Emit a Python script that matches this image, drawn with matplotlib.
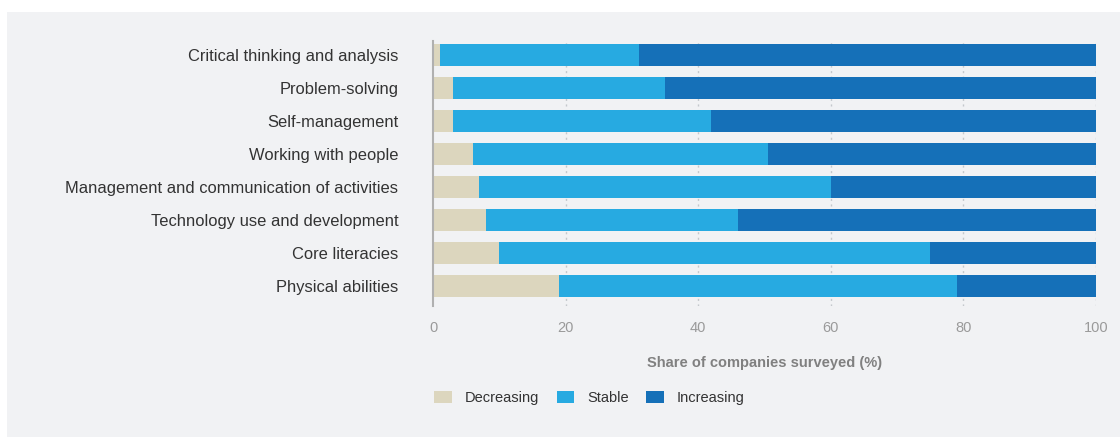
import matplotlib
matplotlib.use("Agg")
import matplotlib.pyplot as plt
from matplotlib.patches import Rectangle, Patch
import numpy as np

skills = [
    "Critical thinking and analysis",
    "Problem-solving",
    "Self-management",
    "Working with people",
    "Management and communication of activities",
    "Technology use and development",
    "Core literacies",
    "Physical abilities",
]
decreasing = [1, 3, 3, 6, 7, 8, 10, 19]
stable = [30, 32, 39, 44.5, 53, 38, 65, 60]
increasing = [69, 65, 58, 49.5, 40, 54, 25, 21]
series_names = ["Decreasing", "Stable", "Increasing"]

BEIGE = "#DCD6BE"
SKY = "#27AAE1"
BLUE = "#1570B8"
PANEL = "#F1F2F4"

plt.rcParams["font.family"] = ["Liberation Sans", "DejaVu Sans"]

fig = plt.figure(figsize=(11.2, 4.37), dpi=100)
# light grey panel behind everything
fig.patches.append(Rectangle((7 / 1120, 0), 1 - 7 / 1120, 1 - 12 / 437,
                             transform=fig.transFigure, facecolor=PANEL,
                             edgecolor="none", zorder=-10))

ax = fig.add_axes([433 / 1120, 1 - 306 / 437, 663 / 1120, 265 / 437])
ax.set_facecolor("none")
ax.set_zorder(1)

y = np.arange(len(skills))
h = 0.65
dec = np.array(decreasing)
sta = np.array(stable)
inc = np.array(increasing)
ax.barh(y, dec, height=h, color=BEIGE, zorder=2)
ax.barh(y, sta, left=dec, height=h, color=SKY, zorder=2)
ax.barh(y, inc, left=dec + sta, height=h, color=BLUE, zorder=2)

ax.set_xlim(0, 100)
ax.set_ylim(len(skills) - 1 + 0.6, -0.42)
ax.set_yticks(y)
ax.set_yticklabels(skills, fontsize=11.9, color="#333333")
ax.tick_params(axis="y", length=0, pad=25)
ax.set_xticks([0, 20, 40, 60, 80, 100])
ax.tick_params(axis="x", length=0, pad=11, labelsize=10.5, labelcolor="#9a9a9a")

for x in [20, 40, 60, 80, 100]:
    ax.axvline(x, color="#c4c8cc", linewidth=1, linestyle=(0, (1.5, 2.5)), zorder=1)

for s in ["top", "right", "bottom"]:
    ax.spines[s].set_visible(False)
ax.spines["left"].set_color("#b0b0b0")
ax.spines["left"].set_linewidth(1.5)

ax.set_xlabel("Share of companies surveyed (%)", fontsize=10.5, fontweight="bold",
              color="#808080", labelpad=15)

handles = [Patch(facecolor=c, edgecolor="none") for c in [BEIGE, SKY, BLUE]]
fig.legend(handles, series_names, loc="center left",
           bbox_to_anchor=(421 / 1120, 1 - 398 / 437), ncol=3, frameon=False,
           fontsize=10.5, handlelength=1.2, handleheight=0.8, handletextpad=0.9,
           columnspacing=1.2, labelcolor="#333333")

fig.savefig("out.png")
